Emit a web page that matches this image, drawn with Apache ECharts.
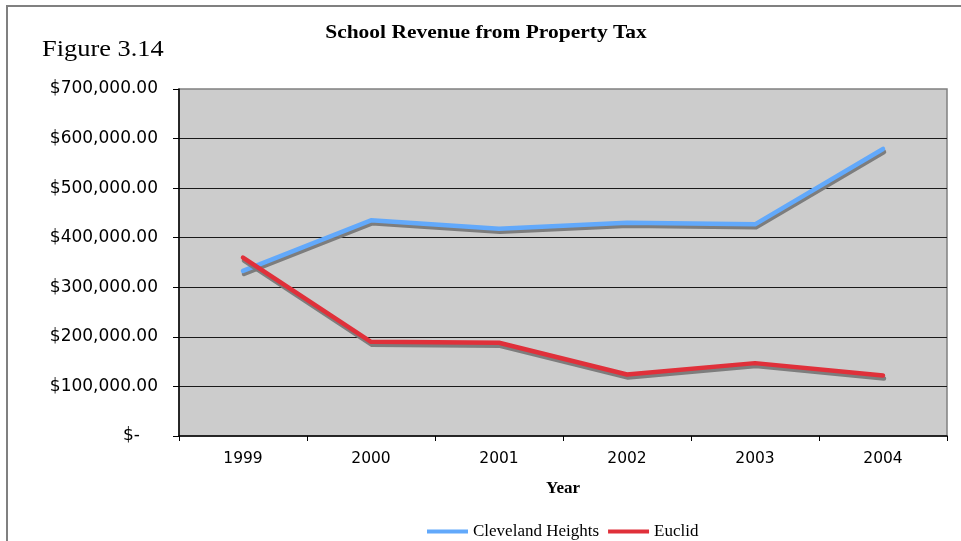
<!DOCTYPE html>
<html>
<head>
<meta charset="utf-8">
<script src="https://cdn.jsdelivr.net/npm/echarts@6/dist/echarts.min.js"></script>
<style>
  html, body { margin: 0; padding: 0; background: #ffffff; }
  #chart { width: 961px; height: 541px; }
</style>
</head>
<body>
<div id="chart"></div>
<script>
// School revenue from property tax, by year
const years = ['1999', '2000', '2001', '2002', '2003', '2004'];
const clevelandHeights = [333000, 435000, 418000, 430000, 427000, 579000];
const euclid = [360000, 190000, 188000, 124000, 147000, 122000];
const seriesNames = ['Cleveland Heights', 'Euclid'];
const yTicks = { min: 0, max: 700000, interval: 100000 };

const serif = '"Liberation Serif", "Times New Roman", serif';
const sans = '"DejaVu Sans", Verdana, sans-serif';

const chart = echarts.init(document.getElementById('chart'));

function money(v) {
  if (v === 0) return '{z|$-}';
  return '$' + v.toLocaleString('en-US', { minimumFractionDigits: 2, maximumFractionDigits: 2 });
}

function lineSeries(name, data, color) {
  return {
    name: name,
    type: 'line',
    data: data,
    symbol: 'none',
    showSymbol: false,
    color: color,
    lineStyle: {
      width: 4.5,
      color: color,
      cap: 'round',
      join: 'round',
      shadowColor: 'rgba(120,120,120,0.95)',
      shadowBlur: 0,
      shadowOffsetX: 1,
      shadowOffsetY: 3
    },
    emphasis: { disabled: true }
  };
}

chart.setOption({
  animation: false,
  backgroundColor: '#ffffff',
  graphic: [
    {
      type: 'rect',
      z: -10,
      shape: { x: 7, y: 6, width: 1000, height: 1000 },
      style: { fill: 'none', stroke: '#808080', lineWidth: 2 }
    },
    {
      type: 'text',
      x: 42, y: 50,
      scaleX: 1.1,
      style: {
        text: 'Figure 3.14',
        fontFamily: serif,
        fontSize: 24,
        fill: '#000000',
        align: 'left',
        verticalAlign: 'middle'
      }
    },
    {
      type: 'text',
      x: 486, y: 33,
      scaleX: 1.13,
      style: {
        text: 'School Revenue from Property Tax',
        fontFamily: serif,
        fontWeight: 'bold',
        fontSize: 19,
        fill: '#000000',
        align: 'center',
        verticalAlign: 'middle'
      }
    }
  ],
  legend: {
    left: 422,
    top: 518,
    icon: 'rect',
    itemWidth: 41,
    itemHeight: 4,
    itemGap: 9,
    selectedMode: false,
    itemStyle: { shadowBlur: 0, shadowColor: 'transparent', shadowOffsetX: 0, shadowOffsetY: 0 },
    textStyle: {
      fontFamily: serif,
      fontSize: 17,
      color: '#000000'
    },
    data: seriesNames
  },
  grid: {
    left: 179,
    right: 14,
    top: 89,
    bottom: 105,
    show: true,
    backgroundColor: '#cccccc',
    borderColor: '#808080',
    borderWidth: 1.5
  },
  xAxis: {
    type: 'category',
    data: years,
    boundaryGap: true,
    name: 'Year',
    nameLocation: 'middle',
    nameGap: 44,
    nameTextStyle: {
      fontFamily: serif,
      fontWeight: 'bold',
      fontSize: 17,
      color: '#000000'
    },
    axisLine: { show: true, lineStyle: { color: '#000000', width: 1.5 } },
    axisTick: { show: true, alignWithLabel: false, length: 5, lineStyle: { color: '#000000' } },
    axisLabel: {
      margin: 15,
      fontFamily: sans,
      fontSize: 15.5,
      color: '#000000'
    },
    splitLine: { show: false }
  },
  yAxis: {
    type: 'value',
    min: yTicks.min,
    max: yTicks.max,
    interval: yTicks.interval,
    axisLine: { show: true, lineStyle: { color: '#000000', width: 1.5 } },
    axisTick: { show: true, length: 6, lineStyle: { color: '#000000' } },
    axisLabel: {
      margin: 21,
      fontFamily: sans,
      fontSize: 17,
      color: '#000000',
      formatter: money,
      rich: {
        z: {
          fontFamily: sans,
          fontSize: 17,
          color: '#000000',
          padding: [0, 18, 0, 0]
        }
      }
    },
    splitLine: {
      show: true,
      showMinLine: false,
      showMaxLine: false,
      lineStyle: { color: '#1a1a1a', width: 1 }
    }
  },
  series: [
    lineSeries(seriesNames[0], clevelandHeights, '#62a9fb'),
    lineSeries(seriesNames[1], euclid, '#e0303a')
  ]
});
</script>
</body>
</html>
